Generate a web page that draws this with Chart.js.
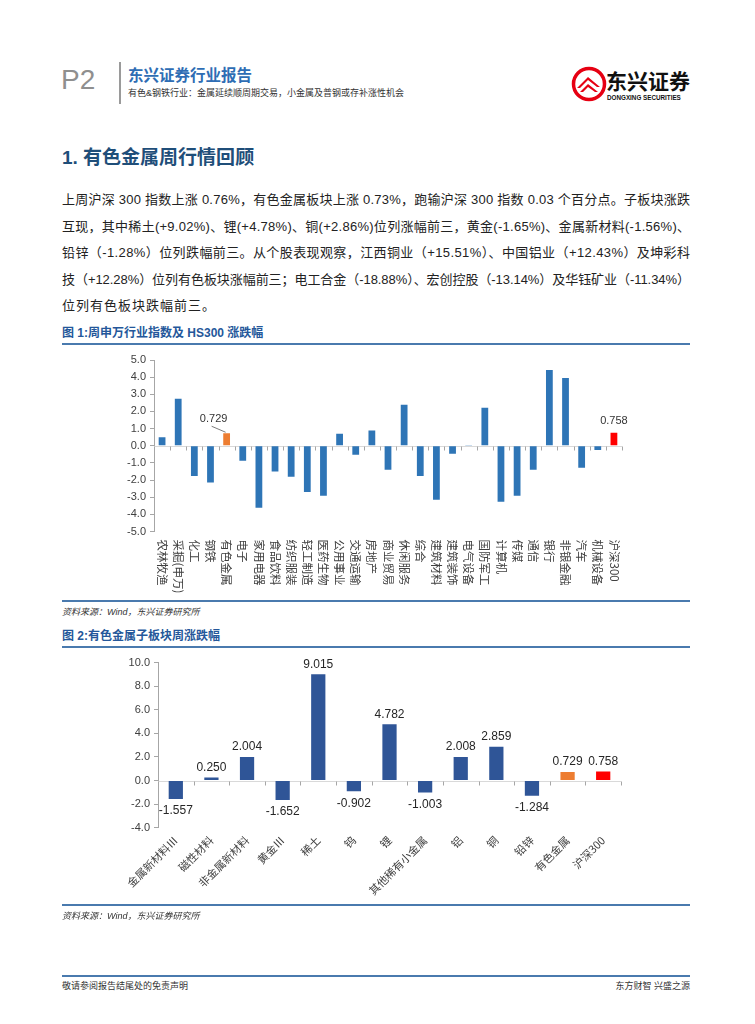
<!DOCTYPE html>
<html><head><meta charset="utf-8">
<script src="https://cdn.jsdelivr.net/npm/chart.js@4.4.0/dist/chart.umd.min.js"></script>
<style>
html,body{margin:0;padding:0;background:#fff;}
body{width:755px;height:1024px;position:relative;overflow:hidden;font-family:"Liberation Sans","Noto Sans CJK SC",sans-serif;}
.hline{position:absolute;left:62px;width:628px;height:2px;background:#4A7AAE;}
.just{position:absolute;left:62px;white-space:nowrap;font-size:13px;color:#222;line-height:16px;}
.figt{position:absolute;left:62px;font-size:12px;font-weight:bold;color:#24579A;white-space:nowrap;line-height:16px;}
.src{position:absolute;left:62px;font-size:9px;font-style:italic;color:#333;white-space:nowrap;line-height:12px;}
canvas{position:absolute;}
</style></head>
<body>
<div style="position:absolute;left:61px;top:64px;font-size:28px;color:#8f8f8f;line-height:32px;">P2</div>
<div style="position:absolute;left:119px;top:62px;width:2px;height:42px;background:#9a9a9a;"></div>
<div style="position:absolute;left:128px;top:67px;font-size:15.5px;font-weight:bold;color:#2E6DB4;line-height:18px;white-space:nowrap;">东兴证券行业报告</div>
<div style="position:absolute;left:128px;top:87px;font-size:9px;color:#333;line-height:12px;white-space:nowrap;">有色&amp;钢铁行业：金属延续顺周期交易，小金属及普钢或存补涨性机会</div>
<svg style="position:absolute;left:571px;top:66px;" width="36" height="36" viewBox="0 0 36 36">
<circle cx="18" cy="18" r="15.5" fill="#fff" stroke="#E60012" stroke-width="3.5"/>
<path d="M6 22 L17 11 L29 21 L26 21 L17 14 L9 22 Z" fill="#E60012"/>
<path d="M9 26 L17 18 L27 26 L24 26 L17 21 L12 26 Z" fill="#E60012"/>
</svg>
<div style="position:absolute;left:606px;top:70px;font-size:21px;font-weight:bold;color:#111;line-height:24px;white-space:nowrap;">东兴证券</div>
<div style="position:absolute;left:607px;top:94px;font-size:6.3px;font-weight:bold;color:#111;line-height:8px;white-space:nowrap;">DONGXING SECURITIES</div>

<div style="position:absolute;left:62px;top:147px;font-size:19px;font-weight:bold;color:#1F4E79;line-height:22px;white-space:nowrap;">1. 有色金属周行情回顾</div>

<div class="just" data-w="628" style="top:192px;">上周沪深 300 指数上涨 0.76%，有色金属板块上涨 0.73%，跑输沪深 300 指数 0.03 个百分点。子板块涨跌</div>
<div class="just" data-w="628" style="top:219px;">互现，其中稀土(+9.02%)、锂(+4.78%)、铜(+2.86%)位列涨幅前三，黄金(-1.65%)、金属新材料(-1.56%)、</div>
<div class="just" data-w="628" style="top:245px;">铅锌（-1.28%）位列跌幅前三。从个股表现观察，江西铜业（+15.51%）、中国铝业（+12.43%）及坤彩科</div>
<div class="just" data-w="628" style="top:272px;">技（+12.28%）位列有色板块涨幅前三；电工合金（-18.88%）、宏创控股（-13.14%）及华钰矿业（-11.34%）</div>
<div class="just" style="top:298px;letter-spacing:1px;">位列有色板块跌幅前三。</div>

<div class="figt" style="top:325px;">图 1:周申万行业指数及 HS300 涨跌幅</div>
<div class="hline" style="top:343px;"></div>
<canvas id="c1" width="628" height="255" style="left:62px;top:347px;"></canvas>
<div class="hline" style="top:600px;"></div>
<div class="src" style="top:606px;">资料来源：Wind，东兴证券研究所</div>

<div class="figt" style="top:628px;">图 2:有色金属子板块周涨跌幅</div>
<div class="hline" style="top:646px;"></div>
<canvas id="c2" width="628" height="256" style="left:62px;top:649px;"></canvas>
<div class="hline" style="top:904px;"></div>
<div class="src" style="top:910px;">资料来源：Wind，东兴证券研究所</div>

<div class="hline" style="top:975px;"></div>
<div style="position:absolute;left:62px;top:980px;font-size:9px;color:#333;line-height:12px;white-space:nowrap;">敬请参阅报告结尾处的免责声明</div>
<div style="position:absolute;right:65px;top:980px;font-size:9px;color:#333;line-height:12px;white-space:nowrap;">东方财智 兴盛之源</div>

<script>
// ---- Data ----
const industryNames = ['农林牧渔','采掘(申万)','化工','钢铁','有色金属','电子','家用电器','食品饮料','纺织服装','轻工制造','医药生物','公用事业','交通运输','房地产','商业贸易','休闲服务','综合','建筑材料','建筑装饰','电气设备','国防军工','计算机','传媒','通信','银行','非银金融','汽车','机械设备','沪深300'];
const industryChanges = [0.49,2.74,-1.77,-2.14,0.729,-0.88,-3.62,-1.50,-1.81,-2.70,-2.92,0.70,-0.53,0.89,-1.40,2.39,-1.77,-3.15,-0.47,0.04,2.22,-3.27,-2.92,-1.40,4.42,3.95,-1.28,-0.25,0.758];
const industryLabelled = ['有色金属','沪深300'];
const chart1Axis = {min:-5, max:5, step:1};

const subNames = ['金属新材料Ⅲ','磁性材料','非金属新材料','黄金Ⅲ','稀土','钨','锂','其他稀有小金属','铝','铜','铅锌','有色金属','沪深300'];
const subChanges = [-1.557,0.250,2.004,-1.652,9.015,-0.902,4.782,-1.003,2.008,2.859,-1.284,0.729,0.758];
const chart2Axis = {min:-4, max:10, step:2};

// ---- justify lines ----
function justify(){
  document.querySelectorAll('.just[data-w]').forEach(el=>{
    el.style.letterSpacing='0px';
    const w=el.getBoundingClientRect().width;
    const n=[...el.textContent].length;
    const target=+el.dataset.w;
    el.style.letterSpacing=((target-w)/(n-1))+'px';
  });
}
justify();
if(document.fonts&&document.fonts.ready) document.fonts.ready.then(justify);

Chart.defaults.animation=false;
Chart.defaults.font.family='"Liberation Sans","Noto Sans CJK SC",sans-serif';

const ORANGE='#ED7D31', RED='#FF0000';
function colorFor(name, base){
  if(name==='有色金属') return ORANGE;
  if(name==='沪深300') return RED;
  return base;
}

const zeroAxis = {
  id:'zeroAxis',
  beforeDatasetsDraw(chart){
    const {ctx, chartArea, scales:{x,y}} = chart;
    const y0 = Math.round(y.getPixelForValue(0))+0.5;
    ctx.save();
    ctx.strokeStyle='#D9D9D9'; ctx.lineWidth=1;
    ctx.beginPath(); ctx.moveTo(chartArea.left,y0); ctx.lineTo(chartArea.right,y0); ctx.stroke();
    ctx.strokeStyle='#A6A6A6';
    const n=x.ticks.length;
    for(let i=0;i<=n;i++){
      const px=Math.round(x.getPixelForValue(i-0.5))+0.5;
      ctx.beginPath(); ctx.moveTo(px,y0); ctx.lineTo(px,y0+4); ctx.stroke();
    }
    ctx.restore();
  }
};

const verticalLabels = {
  id:'verticalLabels',
  afterDraw(chart){
    const {ctx, chartArea, scales:{x}} = chart;
    ctx.save();
    ctx.font='11.5px "Noto Sans CJK SC"';
    ctx.fillStyle='#404040'; ctx.textAlign='left'; ctx.textBaseline='middle';
    chart.data.labels.forEach((name,i)=>{
      const px=x.getPixelForValue(i);
      ctx.save(); ctx.translate(px, chartArea.bottom+8); ctx.rotate(Math.PI/2);
      ctx.fillText(name,0,0); ctx.restore();
    });
    ctx.restore();
  }
};

const chart1Labels = {
  id:'chart1Labels',
  afterDatasetsDraw(chart){
    const {ctx} = chart; const meta=chart.getDatasetMeta(0);
    ctx.save(); ctx.font='11px "Liberation Sans"'; ctx.fillStyle='#333';
    ctx.textAlign='center'; ctx.textBaseline='middle';
    chart.data.labels.forEach((name,i)=>{
      if(!industryLabelled.includes(name)) return;
      const bar=meta.data[i]; const txt=industryChanges[i].toFixed(3);
      if(name==='有色金属'){
        ctx.fillText(txt, bar.x-13, bar.y-14);
        ctx.strokeStyle='#595959'; ctx.lineWidth=0.8;
        ctx.beginPath(); ctx.moveTo(bar.x-15, bar.y-7); ctx.lineTo(bar.x-1, bar.y-1); ctx.stroke();
      } else {
        ctx.fillText(txt, bar.x, bar.y-12);
      }
    });
    ctx.restore();
  }
};

const chart2Labels = {
  id:'chart2Labels',
  afterDatasetsDraw(chart){
    const {ctx} = chart; const meta=chart.getDatasetMeta(0);
    ctx.save(); ctx.font='12px "Liberation Sans"'; ctx.fillStyle='#262626'; ctx.textAlign='center';
    meta.data.forEach((bar,i)=>{
      const v=subChanges[i]; const txt=v.toFixed(3);
      if(v>=0){ctx.textBaseline='bottom'; ctx.fillText(txt,bar.x,bar.y-4);}
      else {ctx.textBaseline='top'; ctx.fillText(txt,bar.x,bar.y+6);}
    });
    ctx.restore();
  }
};

function yScale(axis, width){
  return {
    min:axis.min, max:axis.max,
    ticks:{stepSize:axis.step, padding:4, color:'#404040', font:{size:11}, callback:v=>Number(v).toFixed(1)},
    grid:{drawOnChartArea:false, drawTicks:true, tickLength:4, color:'#A6A6A6'},
    border:{display:true, color:'#A6A6A6'},
    afterFit:s=>{s.width=width;}
  };
}

new Chart(document.getElementById('c1'), {
  type:'bar',
  data:{labels:industryNames, datasets:[{
    data:industryChanges,
    backgroundColor:ctx=>colorFor(industryNames[ctx.dataIndex],'#2E75B6'),
    barPercentage:0.42, categoryPercentage:1
  }]},
  options:{
    responsive:false, devicePixelRatio:1,
    layout:{padding:{left:0,right:68,top:13,bottom:0}},
    plugins:{legend:{display:false}, tooltip:{enabled:false}},
    scales:{
      x:{grid:{display:false,drawTicks:false}, border:{display:false}, ticks:{display:false}, afterFit:s=>{s.height=70.5;}},
      y:yScale(chart1Axis, 92)
    }
  },
  plugins:[zeroAxis, verticalLabels, chart1Labels]
});

new Chart(document.getElementById('c2'), {
  type:'bar',
  data:{labels:subNames, datasets:[{
    data:subChanges,
    backgroundColor:ctx=>colorFor(subNames[ctx.dataIndex],'#2F5597'),
    barPercentage:0.4, categoryPercentage:1
  }]},
  options:{
    responsive:false, devicePixelRatio:1,
    layout:{padding:{left:0,right:69,top:13.7,bottom:0}},
    plugins:{legend:{display:false}, tooltip:{enabled:false}},
    scales:{
      x:{grid:{display:false,drawTicks:false}, border:{display:false},
         ticks:{autoSkip:false, minRotation:45, maxRotation:45, padding:6, color:'#404040', font:{size:11, family:'"Noto Sans CJK SC"'}},
         afterFit:s=>{s.height=77.3;}},
      y:yScale(chart2Axis, 96)
    }
  },
  plugins:[zeroAxis, chart2Labels]
});
</script>
</body></html>
